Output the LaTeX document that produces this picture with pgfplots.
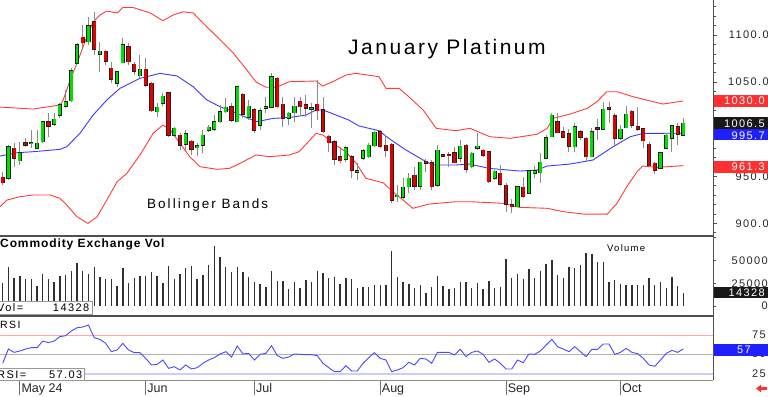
\documentclass[border=0pt]{standalone}
\usepackage{fontspec}
\setmainfont{Liberation Sans}
\usepackage{pgfplots}
\usepackage{pgfplotstable}
\pgfplotsset{compat=1.18}
\usetikzlibrary{arrows.meta}
\newfontfamily\ticksf[LetterSpace=13]{Liberation Sans}
\newfontfamily\widesf[LetterSpace=15]{Liberation Sans}
\newfontfamily\titlesf[LetterSpace=12]{Liberation Sans}
\newfontfamily\boldsf[LetterSpace=7.5]{Liberation Sans Bold}
\newfontfamily\plainsf{Liberation Sans}
\definecolor{cgreen}{HTML}{00E000}
\definecolor{cred}{HTML}{E00000}
\definecolor{outl}{HTML}{202020}
\definecolor{wickc}{HTML}{8A8A8A}
\definecolor{bandred}{HTML}{FF3B3B}
\definecolor{bandblue}{HTML}{3A3AFF}
\definecolor{volc}{HTML}{303030}
\definecolor{rsic}{HTML}{4848FF}
\definecolor{boxred}{HTML}{FF3030}
\definecolor{boxblue}{HTML}{2020FF}
\definecolor{axc}{HTML}{505050}

\pgfplotstableread{
i o h l c
1 947.8 983.2 946.0 981.4
3 966.5 986.7 961.9 975.0
5 984.6 999.1 979.6 985.7
6 979.6 999.1 978.6 985.0
7 986.7 1009.0 985.7 1008.0
9 1005.5 1016.8 1003.4 1010.4
10 1015.0 1027.4 1011.5 1025.7
11 1024.6 1041.6 1022.1 1029.2
12 1030.3 1064.6 1029.2 1061.8
13 1069.9 1091.2 1069.2 1089.4
15 1092.9 1119.5 1089.4 1109.6
17 1079.8 1092.9 1061.1 1083.0
20 1048.7 1061.5 1044.4 1061.1
21 1070.6 1096.5 1069.9 1089.4
24 1056.8 1078.8 1054.0 1063.9
27 1018.6 1027.4 1013.3 1023.2
28 1027.4 1038.1 1024.6 1035.2
30 993.8 1002.7 992.0 1000.9
32 984.2 999.1 977.9 994.9
34 980.4 985.0 971.5 982.5
35 983.2 999.1 974.3 993.8
36 999.1 1004.4 997.3 1001.9
37 999.8 1015.0 998.4 1008.0
38 1008.0 1025.7 1006.9 1018.6
39 1018.6 1032.7 1016.8 1023.2
41 1008.0 1045.8 1007.3 1045.1
43 1012.6 1031.0 1009.7 1024.6
45 1004.4 1022.1 999.1 1019.6
46 1022.1 1034.5 1016.8 1023.9
47 1023.2 1059.3 1022.1 1055.8
50 1011.5 1018.6 1004.4 1016.8
51 1017.5 1034.5 1008.0 1024.6
54 1021.4 1027.4 1000.9 1022.8
60 968.0 982.1 965.5 980.4
62 954.5 963.7 946.0 955.9
63 969.0 978.6 967.3 977.2
64 970.8 985.0 969.0 983.2
65 982.5 998.4 981.4 996.6
69 928.3 940.7 923.0 930.1
70 927.6 947.8 925.5 938.2
71 938.9 953.1 931.9 947.8
73 939.6 965.5 935.4 964.8
76 940.7 983.2 938.9 977.9
80 969.0 988.5 965.5 982.1
82 960.2 976.1 958.4 974.3
83 979.6 995.6 977.9 982.1
86 947.8 956.6 946.0 955.6
90 917.7 939.6 917.0 938.9
92 931.9 956.6 931.2 955.9
93 953.1 960.9 947.8 955.9
94 953.8 974.3 943.2 964.8
95 969.0 993.8 968.0 991.0
96 992.0 1016.8 991.3 1015.0
100 981.4 1006.2 976.1 1002.7
103 970.8 1001.6 970.1 997.3
105 1000.2 1029.2 999.1 1021.1
108 990.3 1004.4 988.5 999.8
109 1001.6 1024.6 1000.9 1016.1
115 958.4 976.1 957.3 975.0
116 979.6 995.6 978.6 993.8
117 990.3 1004.4 976.1 1003.4
119 993.8 1011.5 992.7 1006.5
}\greenc

\pgfplotstableread{
i o h l c
0 948.8 954.9 940.7 943.2
2 979.6 985.0 960.2 969.0
4 985.7 990.3 981.4 982.8
8 1008.0 1016.8 992.0 1003.4
14 1097.5 1110.6 1084.1 1091.9
16 1114.2 1124.8 1078.8 1084.8
18 1083.0 1084.1 1068.1 1072.4
19 1064.6 1071.7 1048.7 1052.9
22 1087.6 1091.9 1068.1 1071.7
23 1069.2 1071.7 1057.5 1061.8
25 1063.9 1075.2 1044.4 1046.9
26 1048.7 1050.4 1018.6 1019.6
29 1038.8 1039.8 992.0 993.8
31 993.8 996.3 977.9 983.2
33 987.4 988.5 972.6 978.6
40 1023.9 1027.4 1008.0 1009.7
42 1037.0 1038.1 1011.5 1016.1
44 1020.4 1022.1 996.3 999.1
48 1054.0 1055.0 1022.1 1023.9
49 1026.4 1034.5 1002.7 1011.5
52 1029.6 1034.5 1015.0 1023.9
53 1025.7 1036.3 1013.3 1022.1
55 1026.4 1052.2 1009.7 1019.6
56 1020.4 1033.8 995.6 997.3
57 992.7 993.8 976.1 985.7
58 986.7 988.5 961.9 968.0
59 970.8 981.4 963.7 966.5
61 970.8 972.6 947.8 956.6
66 997.3 999.1 979.6 981.4
67 983.2 993.8 970.8 977.2
68 984.2 985.7 921.9 924.8
72 951.3 960.2 935.4 939.6
74 966.2 968.0 954.9 963.7
75 964.4 967.3 935.4 938.9
77 972.2 973.6 970.8 971.5
78 972.6 976.1 960.2 971.8
79 975.0 981.4 963.7 964.4
81 983.2 984.2 953.8 957.3
84 977.9 978.6 970.8 972.6
85 976.1 976.8 943.2 944.2
87 953.1 961.9 939.6 941.4
88 940.7 943.2 912.4 920.5
89 919.5 925.5 910.6 917.7
91 938.2 949.5 926.5 928.3
97 1008.0 1016.8 995.6 996.3
98 997.3 1002.7 990.3 991.3
99 994.9 999.8 976.1 982.1
101 997.3 999.1 988.5 991.3
102 990.3 992.0 965.5 970.8
104 1000.9 1010.4 988.5 1000.2
106 1023.2 1029.2 1006.9 1021.1
107 1014.3 1016.8 981.4 990.3
110 1019.3 1020.4 1000.9 1004.4
111 1002.7 1023.9 998.4 1000.2
112 1000.2 1000.9 979.6 987.8
113 984.2 986.7 960.2 961.2
114 963.7 964.8 952.4 956.6
118 1002.7 1006.2 983.2 994.9
}\redc

\pgfplotstableread{
x y
-0.47 1023.5
5.3 1021.4
10.0 1025.7
10.5 1029.9
11.8 1052.2
13.0 1070.3
14.7 1097.9
15.8 1113.8
17.0 1121.2
18.2 1125.5
20.0 1123.4
21.0 1129.2
22.8 1129.2
25.8 1123.4
28.0 1115.2
29.8 1121.2
31.5 1124.7
33.3 1123.4
34.5 1115.9
37.5 1097.9
40.3 1080.9
42.7 1062.8
44.3 1050.1
46.0 1044.5
47.8 1044.5
50.1 1050.4
54.8 1051.2
55.9 1045.8
57.7 1050.4
60.0 1057.5
61.8 1059.3
65.8 1055.7
67.0 1043.4
69.3 1043.4
71.0 1034.5
73.5 1020.4
75.8 1000.9
79.2 998.4
81.7 1000.9
85.2 992.0
88.7 990.3
93.4 994.6
95.2 1000.9
96.2 1011.5
99.2 1016.1
102.2 1022.2
103.9 1029.2
105.6 1039.8
107.4 1039.8
110.2 1034.5
115.4 1026.7
119 1030.0
}\bandU

\pgfplotstableread{
x y
-0.47 971.5
2.5 975.0
5.3 976.1
10.0 978.6
11.2 981.4
13.5 995.6
15.8 1015.0
18.2 1031.0
20.5 1043.4
24.0 1054.0
27.5 1059.3
30.5 1056.5
33.3 1045.1
35.7 1031.0
38.0 1023.9
40.3 1018.6
44.3 1007.9
47.3 1011.5
50.1 1012.4
53.0 1015.0
54.8 1020.4
56.0 1020.4
58.3 1015.0
60.5 1009.7
62.3 1003.4
65.8 998.4
67.5 990.3
70.5 977.9
73.5 967.3
75.2 962.0
79.2 962.0
81.7 963.0
85.0 958.4
90.4 955.6
93.4 956.6
95.2 960.9
99.2 963.0
103.2 967.3
106.7 981.4
109.7 992.0
112.0 995.6
119 995.7
}\bandM

\pgfplotstableread{
x y
-0.47 917.7
0.75 924.8
3.0 928.3
5.3 930.1
8.3 930.1
10.0 926.6
11.2 919.5
13.0 907.0
14.9 900.0
16.5 907.0
18.2 924.8
20.0 944.2
21.7 953.1
24.0 972.6
26.3 995.6
28.0 1004.4
29.3 999.1
31.0 985.0
32.7 970.8
34.5 960.2
37.5 957.4
39.7 958.5
41.5 963.8
44.3 972.6
46.6 970.8
50.1 972.6
51.8 976.1
54.8 995.6
56.0 993.8
57.7 985.0
60.0 976.1
61.8 963.8
63.5 947.8
66.5 943.2
68.2 933.6
69.3 928.3
71.7 916.0
74.5 920.5
79.2 923.0
81.7 923.0
87.5 921.3
90.4 917.0
95.2 916.0
98.0 912.4
101.5 909.9
105.7 909.9
107.4 921.3
109.1 938.9
110.9 954.8
111.9 960.9
114.4 959.5
119 961.3
}\bandL

\pgfplotstableread{
i v
0 24900
1 42500
2 31100
3 33300
4 29300
5 29300
6 22300
7 35200
8 29300
9 26700
10 33300
11 34100
12 38500
13 46900
14 38800
15 35200
16 42500
17 31500
18 29700
19 29700
20 22300
21 41400
22 25600
23 31100
24 33000
25 33000
26 37700
27 33000
28 24900
29 43600
30 29300
31 35200
32 41400
33 43600
34 29700
35 34100
36 45100
37 66300
38 53800
39 42500
40 37700
41 42900
42 37700
43 32200
44 26000
45 24200
46 20900
47 38800
48 27800
49 27800
50 18300
51 26700
52 19400
53 28600
54 26700
55 38500
56 35900
57 30400
58 31500
59 23800
60 30400
61 29700
62 20100
63 20900
64 21200
65 22700
66 22700
67 23100
68 60800
69 31500
70 26000
71 23800
72 19400
73 23100
74 13900
75 20500
76 33300
77 22000
78 18700
79 20100
80 26700
81 26000
82 20100
83 24900
84 18700
85 27500
86 20100
87 20900
88 52000
89 31100
90 34800
91 30000
92 40700
93 30800
94 38800
95 46500
96 50500
97 33700
98 31100
99 42900
100 41400
101 44700
102 58200
103 57100
104 48000
105 48000
106 26400
107 28600
108 23800
109 23100
110 23100
111 23100
112 23100
113 31100
114 23100
115 26000
116 19400
117 31900
118 22000
119 14328
}\volT

\pgfplotstableread{
i r
0 38.1
1 56.8
2 52.4
3 54.2
4 56.8
5 58.5
6 58.5
7 67.2
8 65.1
9 67.2
10 72.9
11 74.2
12 80.3
13 84.6
14 85.5
15 88.1
16 71.6
17 69.4
18 64.2
19 53.3
20 55.5
21 64.2
22 55.5
23 52.0
24 52.0
25 44.6
26 35.9
27 36.8
28 42.4
29 31.5
30 33.7
31 29.4
32 35.9
33 30.7
34 32.4
35 38.1
36 42.4
37 45.5
38 50.3
39 53.3
40 46.3
41 60.7
42 50.3
43 51.1
44 42.4
45 49.8
46 51.1
47 61.1
48 48.1
49 44.6
50 46.3
51 50.3
52 49.8
53 49.4
54 49.4
55 48.1
56 38.1
57 32.4
58 27.2
59 27.2
60 35.0
61 28.1
62 28.1
63 38.1
64 45.5
65 52.0
66 44.6
67 42.4
68 27.2
69 29.4
70 32.4
71 39.4
72 35.9
73 44.6
74 43.7
75 38.1
76 52.4
77 52.4
78 52.4
79 49.0
80 56.4
81 46.8
82 52.4
83 54.2
84 49.8
85 39.4
86 43.7
87 38.1
88 30.7
89 30.7
90 42.4
91 38.9
92 50.3
93 49.8
94 54.2
95 62.0
96 69.4
97 59.8
98 56.8
99 53.3
100 59.8
101 53.3
102 46.8
103 56.4
104 56.4
105 63.3
106 63.3
107 49.8
108 52.4
109 57.7
110 52.4
111 50.7
112 44.6
113 35.9
114 34.2
115 42.4
116 51.1
117 55.0
118 52.4
119 57.0
}\rsiT

\pgfplotsset{
  panel/.style={anchor=north west, scale only axis, width=713bp,
    xmin=-0.472, xmax=124.18, axis x line*=bottom, axis y line*=right,
    tick align=outside, clip=true, scaled y ticks=false,
    y axis line style={draw=axc, line width=0.8bp},
    tick style={draw=axc, line width=0.6bp},
    yticklabel style={font=\ticksf\fontsize{11bp}{13bp}\selectfont, text=black!85, anchor=east, inner sep=0pt}},
  wick/.style={forget plot, draw=none, mark=none, error bars/.cd, y dir=plus, y explicit, error mark=none,
    error bar style={draw=wickc, line width=1bp}},
  body/.style 2 args={forget plot, draw=none, mark=none, error bars/.cd, y dir=plus, y explicit, error mark=none,
    error bar style={draw=#1, line width=#2}}
}

\begin{document}
\begin{tikzpicture}
\useasboundingbox (0,0) rectangle (768bp,397bp);

% ---------- price panel
\begin{axis}[panel, at={(0bp,397bp)}, height=236bp,
  ymin=886.6, ymax=1137.2,
  x axis line style={draw=axc, line width=1.8bp},
  xtick=\empty,
  ytick={900,950,1000,1050,1100}, yticklabels={900.0,950.0,1000.0,1050.0,1100.0},
  yticklabel style={xshift=52bp},
  minor ytick={890,900,...,1130},
  major tick length=4bp, minor tick length=2.5bp]
\addplot[forget plot, draw=bandred, line width=0.9bp] table[x=x,y=y] {\bandU};
\addplot[forget plot, draw=bandred, line width=0.9bp] table[x=x,y=y] {\bandL};
\addplot[forget plot, draw=bandblue, line width=0.9bp] table[x=x,y=y] {\bandM};
\addplot[wick] table[x=i, y=l, y error plus expr={\thisrow{h}-\thisrow{l}}] {\greenc};
\addplot[wick] table[x=i, y=l, y error plus expr={\thisrow{h}-\thisrow{l}}] {\redc};
\addplot[body={outl}{4.2bp}] table[x=i, y expr={min(\thisrow{o},\thisrow{c})-0.55}, y error plus expr={max(abs(\thisrow{c}-\thisrow{o}),1.1)+1.1}] {\greenc};
\addplot[body={outl}{4.2bp}] table[x=i, y expr={min(\thisrow{o},\thisrow{c})-0.55}, y error plus expr={max(abs(\thisrow{c}-\thisrow{o}),1.1)+1.1}] {\redc};
\addplot[body={cgreen}{2.8bp}] table[x=i, y expr={min(\thisrow{o},\thisrow{c})}, y error plus expr={max(abs(\thisrow{c}-\thisrow{o}),1.1)}] {\greenc};
\addplot[body={cred}{2.8bp}] table[x=i, y expr={min(\thisrow{o},\thisrow{c})}, y error plus expr={max(abs(\thisrow{c}-\thisrow{o}),1.1)}] {\redc};
\end{axis}

% ---------- volume panel
\begin{axis}[panel, at={(0bp,161bp)}, height=80bp,
  ymin=-11000, ymax=76900,
  x axis line style={draw=axc, line width=1.8bp},
  xtick=\empty,
  ytick={0,25000,50000,75000}, yticklabels={0,25000,50000,{}},
  yticklabel style={xshift=52bp},
  major tick length=3bp]
\addplot[ycomb, draw=volc, line width=1.4bp, mark=none] table[x=i,y=v] {\volT};
\end{axis}

% ---------- RSI panel
\begin{axis}[panel, at={(0bp,81bp)}, height=64bp,
  ymin=16.3, ymax=99.9,
  x axis line style={draw=black!45, line width=1bp},
  xtick={3,25,44,66,88,108}, xticklabels={May 24,Jun,Jul,Aug,Sep,Oct},
  major tick length=15bp,
  xtick style={draw=black!55, line width=0.8bp},
  xticklabel style={font=\plainsf\fontsize{12.5bp}{14bp}\selectfont, text=black!85, anchor=base west, inner sep=0pt, xshift=1.5bp, yshift=2.3bp},
  ytick={25,50,75}, yticklabels={25,50,75},
  ytick style={draw=none},
  minor ytick={25,50,75,100}, minor tick length=3bp,
  yticklabel style={xshift=38bp}]
\addplot[forget plot, draw=red!35, line width=0.8bp] coordinates {(-1,75) (125,75)};
\addplot[forget plot, draw=black!30, line width=0.8bp] coordinates {(-1,50) (125,50)};
\addplot[forget plot, draw=blue!20, line width=2bp] coordinates {(-1,23.5) (125,23.5)};
\addplot[draw=rsic, line width=0.9bp, mark=none] table[x=i,y=r] {\rsiT};
\end{axis}

% ---------- right value boxes
\fill[boxred] (713.5bp,302bp) rectangle (768bp,290bp);
\node[anchor=east, text=white, inner sep=0pt, font=\ticksf\fontsize{11bp}{13bp}\selectfont] at (765bp,296bp) {1030.0};
\fill[boxblue] (713.5bp,268bp) rectangle (768bp,256.5bp);
\node[anchor=east, text=white, inner sep=0pt, font=\ticksf\fontsize{11bp}{13bp}\selectfont] at (765bp,261.5bp) {995.7};
\fill[black!90] (713.5bp,279.5bp) rectangle (768bp,268bp);
\node[anchor=east, text=white, inner sep=0pt, font=\ticksf\fontsize{11bp}{13bp}\selectfont] at (765bp,273.7bp) {1006.5};
\fill[boxred] (713.5bp,236.3bp) rectangle (768bp,224.3bp);
\node[anchor=east, text=white, inner sep=0pt, font=\ticksf\fontsize{11bp}{13bp}\selectfont] at (765bp,230.3bp) {961.3};
\fill[black!90] (713.5bp,110.3bp) rectangle (768bp,98.7bp);
\node[anchor=east, text=white, inner sep=0pt, font=\ticksf\fontsize{11bp}{13bp}\selectfont] at (765bp,104.5bp) {14328};
\fill[boxblue] (713.5bp,53.3bp) rectangle (768bp,41bp);
\node[anchor=east, text=white, inner sep=0pt, font=\ticksf\fontsize{11bp}{13bp}\selectfont] at (751bp,47.2bp) {57};

% ---------- left value boxes
\filldraw[fill=white, draw=black!40, line width=0.8bp] (-2bp,95.3bp) rectangle (92bp,83bp);
\node[anchor=base west, inner sep=0pt, font=\ticksf\fontsize{11bp}{13bp}\selectfont] at (-3bp,85.2bp) {Vol=};
\node[anchor=base east, inner sep=0pt, font=\ticksf\fontsize{11bp}{13bp}\selectfont] at (89.5bp,85.2bp) {14328};
\filldraw[fill=white, draw=black!40, line width=0.8bp] (-2bp,28.7bp) rectangle (84bp,16.3bp);
\node[anchor=base west, inner sep=0pt, font=\ticksf\fontsize{11bp}{13bp}\selectfont] at (-3bp,18.8bp) {RSI=};
\node[anchor=base east, inner sep=0pt, font=\ticksf\fontsize{11bp}{13bp}\selectfont] at (82.5bp,18.8bp) {57.03};

% ---------- titles and labels
\node[anchor=base west, inner sep=0pt, font=\titlesf\fontsize{21bp}{24bp}\selectfont] at (348bp,342bp) {January Platinum};
\node[anchor=base west, inner sep=0pt, font=\widesf\fontsize{13.5bp}{16bp}\selectfont] at (147bp,188bp) {Bollinger Bands};
\node[anchor=base west, inner sep=0pt, font=\boldsf\fontsize{12bp}{14bp}\selectfont] at (0bp,149.3bp) {Commodity Exchange Vol};
\node[anchor=base west, inner sep=0pt, font=\ticksf\fontsize{9.5bp}{11bp}\selectfont] at (607bp,145bp) {Volume};
\node[anchor=base west, inner sep=0pt, font=\ticksf\fontsize{10.5bp}{12bp}\selectfont] at (0bp,68bp) {RSI};
\draw[boxred, line width=2.6bp, -{Triangle[length=5bp,width=7.5bp]}] (767bp,8.5bp) -- (756bp,8.5bp);
\end{tikzpicture}
\end{document}
